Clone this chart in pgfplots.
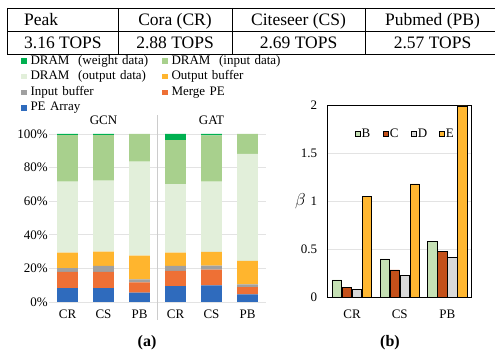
\documentclass[border=0pt]{standalone}
\usepackage{fontspec}
\setmainfont{Liberation Serif}
\usepackage{pgfplots}
\pgfplotsset{compat=1.18}
\definecolor{cPE}{HTML}{2F6BBD}
\definecolor{cMerge}{HTML}{EE7035}
\definecolor{cIn}{HTML}{A0A0A0}
\definecolor{cOut}{HTML}{FFB52E}
\definecolor{cDout}{HTML}{E2EFDA}
\definecolor{cDin}{HTML}{A8D08D}
\definecolor{cDw}{HTML}{00B050}
\definecolor{bB}{HTML}{C5E0B4}
\definecolor{bC}{HTML}{C4501A}
\definecolor{bD}{HTML}{D9D9D9}
\definecolor{bE}{HTML}{FFB731}
\begin{document}
\fontsize{13bp}{15bp}\selectfont
\begin{tikzpicture}[x=1bp,y=1bp]
\path[use as bounding box] (0bp,0bp) rectangle (495bp,352bp);
% ---- table
\begin{scope}[line width=0.9bp]
\draw (7,344) -- (500,344);
\draw (7,321) -- (500,321);
\draw (7,297.5) -- (500,297.5);
\foreach \xx in {7,118,232,365,500} {\draw (\xx,344) -- (\xx,297.5);}
\end{scope}
\begin{scope}[every node/.style={font=\fontsize{17.5bp}{20bp}\selectfont, inner sep=0pt}]
\node[anchor=base west] at (24,327) {Peak};
\node[anchor=base west] at (24,303.7) {3.16 TOPS};
\node[anchor=base] at (175,327) {Cora (CR)};
\node[anchor=base] at (175,303.7) {2.88 TOPS};
\node[anchor=base] at (298.5,327) {Citeseer (CS)};
\node[anchor=base] at (298.5,303.7) {2.69 TOPS};
\node[anchor=base] at (432.5,327) {Pubmed (PB)};
\node[anchor=base] at (432.5,303.7) {2.57 TOPS};
\end{scope}
% ---- chart (a)
\begin{axis}[
  at={(49bp,50bp)}, anchor=south west,
  scale only axis, width=217bp, height=168bp,
  xmin=-0.514, xmax=5.514, ymin=0, ymax=100,
  ybar stacked, bar width=0.583,
  axis line style={draw=none},
  major tick length=0pt,
  ymajorgrids, grid style={gray!22, line width=0.8bp},
  ytick={0,20,40,60,80,100},
  yticklabel={\pgfmathprintnumber{\tick}\%},
  yticklabel style={inner sep=1bp},
  xtick={0,1,2,3,4,5},
  xticklabels={CR,CS,PB,CR,CS,PB},
  xticklabel style={yshift=-3bp},
  /pgf/number format/assume math mode=true,
  clip=false,
  reverse legend,
  legend columns=2,
  legend image code/.code={\fill[#1] (0bp,-2.7bp) rectangle (5.5bp,2.7bp);},
  legend style={draw=none, fill=none, inner sep=0pt, outer sep=0pt,
    at={(rel axis cs:-0.129,1.48)}, anchor=north west,
    nodes={inner xsep=4bp, inner ysep=1.8bp, text height=9bp, text depth=3bp, text width=127.5bp, align=left},
    column sep=0pt},
  every axis plot/.append style={draw=none},
]
\addplot[fill=cPE] coordinates {(0,8.3) (1,8.3) (2,5.6) (3,9.5) (4,9.9) (5,4.6)};
\addlegendentry{PE Array}
\addplot[fill=cMerge] coordinates {(0,9.6) (1,9.6) (2,6.1) (3,9.0) (4,9.4) (5,4.3)};
\addlegendentry{Merge PE}
\addplot[fill=cIn] coordinates {(0,2.2) (1,3.6) (2,1.8) (3,3.0) (4,2.4) (5,1.6)};
\addlegendentry{Input buffer}
\addplot[fill=cOut] coordinates {(0,9.3) (1,8.5) (2,14.1) (3,7.9) (4,8.1) (5,14.0)};
\addlegendentry{Output buffer}
\addplot[fill=cDout] coordinates {(0,42.2) (1,42.2) (2,55.9) (3,40.8) (4,41.8) (5,63.6)};
\addlegendentry{DRAM\ \ (output data)}
\addplot[fill=cDin] coordinates {(0,27.8) (1,27.2) (2,16.5) (3,26.2) (4,27.6) (5,11.9)};
\addlegendentry{DRAM\ \ (input data)}
\addplot[fill=cDw] coordinates {(0,0.6) (1,0.6) (2,0.0) (3,3.6) (4,0.8) (5,0.0)};
\addlegendentry{DRAM\ \ (weight data)}
\draw[gray!40, line width=1.2bp] (axis cs:2.5,111.3) -- (axis cs:2.5,-10.7);
\node at (axis cs:1,107.9) {GCN};
\node at (axis cs:4,107.9) {GAT};
\end{axis}
% ---- chart (b)
\begin{axis}[
  at={(327.7bp,54.7bp)}, anchor=south west,
  scale only axis, width=144bp, height=192.3bp,
  xmin=-0.51, xmax=2.51, ymin=0, ymax=2,
  ybar, bar width=0.195,
  axis line style={black, line width=0.8bp},
  major tick length=0pt,
  ymajorgrids, grid style={gray!22, line width=0.8bp},
  ytick={0,0.5,1,1.5,2},
  yticklabel style={xshift=-6bp},
  xtick={0,1,2}, xticklabels={CR,CS,PB},
  xticklabel style={yshift=-8bp},
  /pgf/number format/assume math mode=true,
  ylabel={\fontsize{18bp}{20bp}\selectfont$\beta$},
  ylabel style={at={(rel axis cs:-0.19,0.5)}, rotate=-90, anchor=center},
  legend columns=4,
  legend image code/.code={\draw[#1, line width=0.6bp] (0bp,-2.5bp) rectangle (5bp,2.5bp);},
  legend style={draw=none, fill=none, inner sep=0pt, outer sep=0pt,
    at={(rel axis cs:0.19,0.849)}, anchor=west,
    nodes={inner xsep=1bp, inner ysep=1bp, text width=20.5bp, align=left},
    column sep=0pt},
]
\addplot[fill=bB, draw=black, line width=0.6bp, bar shift=-0.3146] coordinates {(0,0.18) (1,0.40) (2,0.58)};
\addlegendentry{B}
\addplot[fill=bC, draw=black, line width=0.6bp, bar shift=-0.1049] coordinates {(0,0.107) (1,0.284) (2,0.478)};
\addlegendentry{C}
\addplot[fill=bD, draw=black, line width=0.6bp, bar shift=0.1049] coordinates {(0,0.083) (1,0.225) (2,0.416)};
\addlegendentry{D}
\addplot[fill=bE, draw=black, line width=0.6bp, bar shift=0.3146] coordinates {(0,1.047) (1,1.18) (2,1.99)};
\addlegendentry{E}
\end{axis}
\node[font=\fontsize{16bp}{18bp}\selectfont\bfseries] at (147,9) {(a)};
\node[font=\fontsize{16bp}{18bp}\selectfont\bfseries] at (390,9) {(b)};
\end{tikzpicture}
\end{document}
